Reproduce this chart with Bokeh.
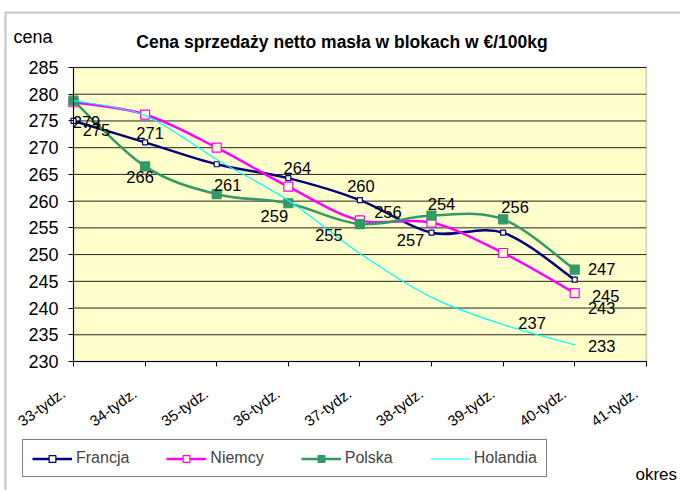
from bokeh.plotting import figure
from bokeh.models import (FixedTicker, Range1d, Legend, LegendItem, ColumnDataSource,
                          Label, BoxAnnotation, LinearAxis)
from bokeh.core.properties import value
from bokeh.embed import file_html
from bokeh.resources import INLINE

# ---------------- data ----------------
categories = ["33-tydz.", "34-tydz.", "35-tydz.", "36-tydz.", "37-tydz.",
              "38-tydz.", "39-tydz.", "40-tydz.", "41-tydz."]
francja = [275.0, 271.0, 266.9, 264.3, 260.2, 254.1, 254.1, 245.3]
niemcy = [278.5, 276.2, 270.0, 262.7, 256.4, 256.0, 250.3, 242.8]
polska = [278.8, 266.5, 261.3, 259.6, 255.7, 257.3, 256.6, 247.2]
holandia = [278.8, 276.0, 267.8, 260.1, 250.2, 242.0, 236.9, 233.1]
y_ticks = [230, 235, 240, 245, 250, 255, 260, 265, 270, 275, 280, 285]

title_text = "Cena sprzedaży netto masła w blokach w €/100kg"
y_title = "cena"
x_title = "okres"

# data labels as printed on the chart (series, category index, text)
label_series = ["Polska", "Francja", "Francja", "Polska", "Francja", "Polska",
                "Polska", "Polska", "Francja", "Niemcy", "Polska", "Francja",
                "Polska", "Polska", "Francja", "Niemcy", "Holandia", "Holandia"]
label_cat = [0, 0, 1, 1, 3, 2, 3, 4, 4, 4, 5, 5, 6, 7, 7, 7, 6, 7]
label_text = ["279", "275", "271", "266", "264", "261", "259", "255", "260",
              "256", "254", "257", "256", "247", "245", "243", "237", "233"]

# label placement (pixel offsets from their point)
label_dx = [13, 23, 5, -5, 9, 11, -14, -31, 1, 28, 10, -21, 12, 27, 31, 27, 29, 27]
label_dy = [21, 9, -9, 11, -10, -9, 13, 11, -14, -8, -12, 7, -12, -1, 16, 15, -2, 1]

series = {"Francja": francja, "Niemcy": niemcy, "Polska": polska, "Holandia": holandia}
colors = {"Francja": "#000080", "Niemcy": "#FF00FF", "Polska": "#339966", "Holandia": "#00FFFF"}

FONT = "Liberation Sans"
BG = "#FFFFCC"

# ---------------- layout (pixels) ----------------
W, H = 680, 490
PLOT_L, PLOT_R, PLOT_T, PLOT_B = 73, 645.8, 67, 361      # plot area in the picture
x_lo, x_hi = 0, len(categories) - 1
y_lo, y_hi = min(y_ticks), max(y_ticks)
XS = (PLOT_R - PLOT_L) / (x_hi - x_lo)
YS = (PLOT_B - PLOT_T) / (y_hi - y_lo)
x_start = x_lo - PLOT_L / XS
x_end = x_start + W / XS
y_top = y_hi + PLOT_T / YS
y_bot = y_top - H / YS
LABEL_SHIFT_PX = 10.4     # category labels end a little left of their tick


def px_x(px):
    return x_start + px / XS


def px_y(py):
    return y_top - py / YS


def smooth_segments(vals):
    """Bezier segments (Excel-style smoothed line) through the points."""
    n = len(vals)
    xs = list(range(n))
    d = dict(x0=[], y0=[], x1=[], y1=[], cx0=[], cy0=[], cx1=[], cy1=[])
    for i in range(n - 1):
        pm = max(i - 1, 0)
        pp = min(i + 2, n - 1)
        d["x0"].append(xs[i]); d["y0"].append(vals[i])
        d["x1"].append(xs[i + 1]); d["y1"].append(vals[i + 1])
        d["cx0"].append(xs[i] + (xs[i + 1] - xs[pm]) / 6.0)
        d["cy0"].append(vals[i] + (vals[i + 1] - vals[pm]) / 6.0)
        d["cx1"].append(xs[i + 1] - (xs[pp] - xs[i]) / 6.0)
        d["cy1"].append(vals[i + 1] - (vals[pp] - vals[i]) / 6.0)
    return d


p = figure(width=W, height=H, x_range=Range1d(x_start, x_end), y_range=Range1d(y_bot, y_top),
           output_backend="svg", toolbar_location=None,
           min_border=0, min_border_left=0, min_border_right=0,
           min_border_top=0, min_border_bottom=0,
           background_fill_color="white", border_fill_color="white")
p.outline_line_color = None
p.xgrid.visible = False
p.ygrid.visible = False

# plot area
p.add_layout(BoxAnnotation(left=x_lo, right=x_hi, bottom=y_lo, top=y_hi,
                           fill_color=BG, fill_alpha=1, line_color="#808080",
                           line_width=2, level="underlay"))
# outer chart border (top and left edges visible)
p.add_layout(BoxAnnotation(left=px_x(5), right=px_x(W + 30), top=px_y(12), bottom=px_y(H + 30),
                           fill_color=None, fill_alpha=0, line_color="#404040",
                           line_width=2, level="underlay"))

# horizontal gridlines at the y ticks
p.segment(x0=[x_lo] * len(y_ticks), x1=[x_hi] * len(y_ticks), y0=y_ticks, y1=y_ticks,
          line_color="#222222", line_width=1)

# y axis
yax = p.yaxis[0]
yax.fixed_location = x_lo
yax.bounds = (y_lo, y_hi)
yax.ticker = FixedTicker(ticks=y_ticks)
yax.major_label_text_font = FONT
yax.major_label_text_font_size = "18px"
yax.major_label_text_color = "black"
yax.major_label_standoff = 10
yax.major_tick_out = 5
yax.major_tick_in = 0
yax.minor_tick_line_color = None
yax.axis_line_color = "black"
yax.major_tick_line_color = "black"

# x axis: line and tick marks
xax = p.xaxis[0]
xax.fixed_location = y_lo
xax.bounds = (x_lo, len(categories) - 1)
xax.ticker = FixedTicker(ticks=list(range(len(categories))))
xax.major_label_overrides = {i: "" for i in range(len(categories))}
xax.major_tick_out = 5
xax.major_tick_in = 0
xax.minor_tick_line_color = None
xax.axis_line_color = "black"
xax.major_tick_line_color = "black"

# x axis: category labels (on a range shifted by a few pixels)
shift = LABEL_SHIFT_PX / XS
p.extra_x_ranges = {"lab": Range1d(x_start + shift, x_end + shift)}
lab_ax = LinearAxis(x_range_name="lab", fixed_location=y_lo,
                    ticker=FixedTicker(ticks=list(range(len(categories)))),
                    major_label_overrides={i: c for i, c in enumerate(categories)},
                    axis_line_color=None, major_tick_line_color=None,
                    minor_tick_line_color=None, major_tick_out=5, major_tick_in=0,
                    major_label_orientation=0.62, major_label_standoff=25,
                    major_label_text_font=FONT, major_label_text_font_size="15px",
                    major_label_text_color="black")
p.add_layout(lab_ax, "below")

# series
styles = {
    "Francja": dict(lw=2.5, size=5, fill=BG),
    "Niemcy": dict(lw=2.5, size=9, fill=BG),
    "Polska": dict(lw=2.5, size=9, fill="#339966"),
    "Holandia": dict(lw=1.2, size=None, fill=None),
}
items = []
for name, vals in series.items():
    st = styles[name]
    src = ColumnDataSource(smooth_segments(vals))
    r_line = p.bezier(x0="x0", y0="y0", x1="x1", y1="y1", cx0="cx0", cy0="cy0",
                      cx1="cx1", cy1="cy1", source=src, line_color=colors[name],
                      line_width=st["lw"])
    rends = [r_line]
    if st["size"]:
        r_pt = p.scatter(list(range(len(vals))), vals, marker="square", size=st["size"],
                         line_color=colors[name], fill_color=st["fill"], line_width=1.2)
        rends.append(r_pt)
    items.append(LegendItem(label=name, renderers=rends))

# data labels
lsrc = ColumnDataSource(dict(
    x=label_cat,
    y=[series[s][c] for s, c in zip(label_series, label_cat)],
    text=label_text, dx=label_dx, dy=label_dy))
p.text(x="x", y="y", text="text", x_offset="dx", y_offset="dy", source=lsrc,
       text_align="center", text_baseline="middle", text_font=value(FONT),
       text_font_size="16.5px", text_color="black")

# series legend (screen offsets from the bottom-left corner)
legend = Legend(items=items, orientation="horizontal", location=(22, 13),
                padding=9, spacing=37, glyph_width=40, glyph_height=17, label_height=17,
                label_standoff=4, label_text_font=FONT, label_text_font_size="16px",
                border_line_color="black", border_line_width=1,
                background_fill_color="white", background_fill_alpha=1, margin=0)
p.add_layout(legend, "center")

# texts
p.add_layout(Label(x=px_x(341.5), y=px_y(41), text=title_text, text_font=FONT,
                   text_font_size="17.5px", text_font_style="bold", text_align="center",
                   text_baseline="alphabetic", text_color="black"))
p.add_layout(Label(x=px_x(13), y=px_y(36.7), text=y_title, text_font=FONT,
                   text_font_size="18px", text_align="left",
                   text_baseline="alphabetic", text_color="black"))
p.add_layout(Label(x=px_x(635), y=px_y(474.3), text=x_title, text_font=FONT,
                   text_font_size="17px", text_align="left",
                   text_baseline="alphabetic", text_color="black"))

open("out.html", "w").write(file_html(p, INLINE))
